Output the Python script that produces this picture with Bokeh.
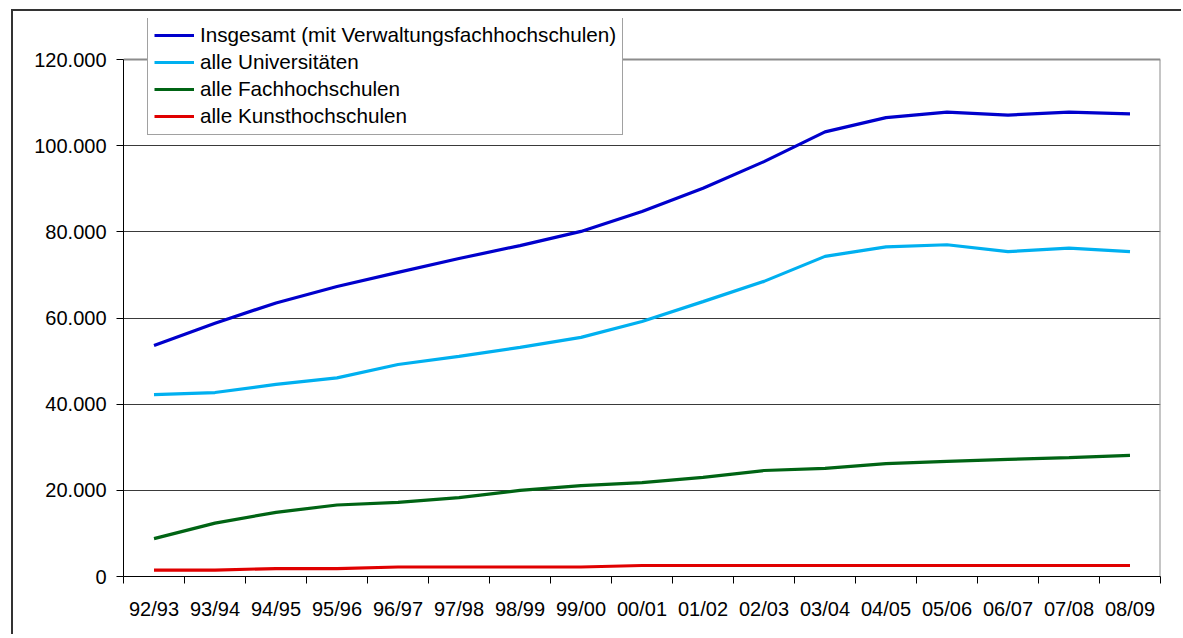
from bokeh.plotting import figure
from bokeh.models import Range1d, FixedTicker, Legend, LegendItem
from bokeh.embed import file_html
from bokeh.resources import INLINE

semesters = ["92/93", "93/94", "94/95", "95/96", "96/97", "97/98", "98/99", "99/00",
             "00/01", "01/02", "02/03", "03/04", "04/05", "05/06", "06/07", "07/08", "08/09"]
insgesamt = [53600, 58800, 63500, 67300, 70600, 73800, 76800, 80100,
             84700, 90100, 96300, 103200, 106500, 107800, 107100, 107800, 107400]
universitaeten = [42200, 42700, 44600, 46100, 49200, 51100, 53200, 55500,
                  59200, 63800, 68500, 74300, 76500, 77000, 75400, 76200, 75400]
fachhochschulen = [8800, 12400, 14900, 16600, 17200, 18300, 20000, 21100,
                   21800, 23000, 24600, 25100, 26200, 26700, 27200, 27600, 28100]
kunsthochschulen = [1500, 1500, 1850, 1850, 2200, 2200, 2200, 2200,
                    2550, 2550, 2550, 2550, 2550, 2550, 2550, 2550, 2550]
series_labels = ["Insgesamt (mit Verwaltungsfachhochschulen)", "alle Universitäten",
                 "alle Fachhochschulen", "alle Kunsthochschulen"]
y_ticks = [0, 20000, 40000, 60000, 80000, 100000, 120000]
y_tick_labels = ["0", "20.000", "40.000", "60.000", "80.000", "100.000", "120.000"]

colors = ["#0000CC", "#00B0F0", "#006414", "#E00000"]
FONT = "Liberation Sans"

n = len(semesters)
x = [i + 0.5 for i in range(n)]
y_max = y_ticks[-1]
# frame extends above the value axis so that the legend (which overlaps the top) is not clipped
frame_px = 558
axis_px = 517
y_end = y_max * frame_px / axis_px

p = figure(width=1170, height=625, output_backend="svg", toolbar_location=None,
           x_range=Range1d(0, n), y_range=Range1d(0, y_end),
           min_border_left=110, min_border_right=23, min_border_top=7, min_border_bottom=60)
p.styles = {"border-top": "2px solid #333333", "border-left": "2px solid #333333",
            "margin-left": "11px", "margin-top": "9px"}
p.background_fill_color = "white"
p.border_fill_color = "white"
p.outline_line_color = None

# plot-area border (top and right), gray
p.segment(x0=[0, n], y0=[y_max, 0], x1=[n, n], y1=[y_max, y_max],
          line_color="#8c8c8c", line_width=2)

renderers = []
for vals, col in zip([insgesamt, universitaeten, fachhochschulen, kunsthochschulen], colors):
    r = p.line(x, vals, line_color=col, line_width=3.2)
    renderers.append(r)

# x axis
p.xaxis.ticker = FixedTicker(ticks=x, minor_ticks=list(range(n + 1)))
p.xaxis.major_label_overrides = {xi: s for xi, s in zip(x, semesters)}
p.xaxis.major_tick_out = 0
p.xaxis.major_tick_in = 0
p.xaxis.minor_tick_out = 7
p.xaxis.minor_tick_in = 0
p.xaxis.minor_tick_line_color = "black"
p.xaxis.axis_line_color = "black"
p.xaxis.major_label_standoff = 14
p.xaxis.major_label_text_font = FONT
p.xaxis.major_label_text_font_size = "20px"
p.xaxis.major_label_text_color = "black"

# y axis
p.yaxis.ticker = FixedTicker(ticks=y_ticks, minor_ticks=[])
p.yaxis.bounds = (0, y_max)
p.yaxis.major_label_overrides = {t: s for t, s in zip(y_ticks, y_tick_labels)}
p.yaxis.major_tick_out = 7
p.yaxis.major_tick_in = 0
p.yaxis.major_tick_line_color = "black"
p.yaxis.axis_line_color = "black"
p.yaxis.major_label_standoff = 10
p.yaxis.major_label_text_font = FONT
p.yaxis.major_label_text_font_size = "20px"
p.yaxis.major_label_text_color = "black"

p.xgrid.visible = False
p.ygrid.ticker = FixedTicker(ticks=y_ticks[1:-1], minor_ticks=[])
p.ygrid.grid_line_color = "#3a3a3a"
p.ygrid.grid_line_width = 1

legend = Legend(items=[LegendItem(label=l, renderers=[r]) for l, r in zip(series_labels, renderers)],
                location=(24, 441))
legend.border_line_color = "#444444"
legend.border_line_width = 1
legend.background_fill_color = "white"
legend.background_fill_alpha = 1
legend.label_text_font = FONT
legend.label_text_font_size = "20.7px"
legend.label_text_color = "black"
legend.glyph_width = 40
legend.glyph_height = 20
legend.label_height = 20
legend.spacing = 3
legend.padding = 6
legend.margin = 0
legend.label_standoff = 6
p.add_layout(legend)

open("out.html", "w").write(file_html(p, INLINE))
